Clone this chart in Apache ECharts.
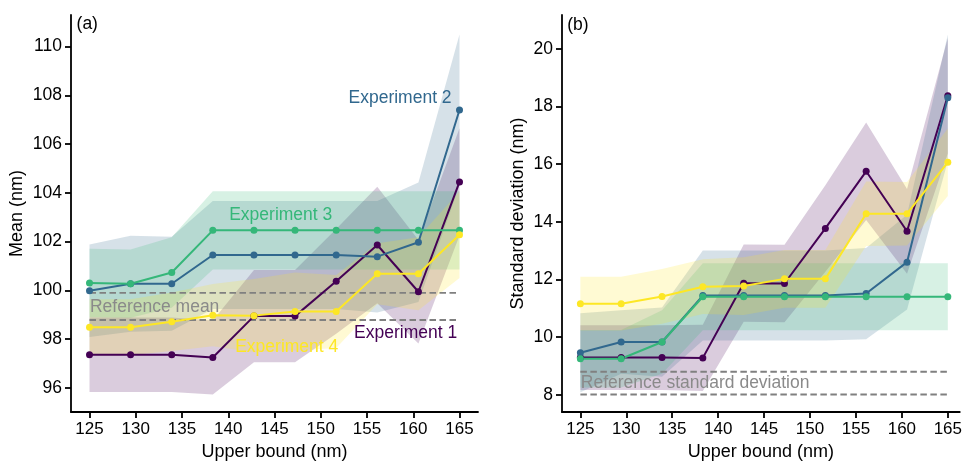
<!DOCTYPE html>
<html>
<head>
<meta charset="utf-8">
<script src="https://cdn.jsdelivr.net/npm/echarts@6/dist/echarts.min.js"></script>
<style>
html,body{margin:0;padding:0;background:#fff;}
#chart{width:965px;height:466px;}
</style>
</head>
<body>
<div id="chart"></div>
<script>
// ---------- data ----------
const upperBound = [125, 129.44, 133.89, 138.33, 142.78, 147.22, 151.67, 156.11, 160.56, 165];
const xTickLabels = [125, 130, 135, 140, 145, 150, 155, 160, 165];
const meanTicks = [96, 98, 100, 102, 104, 106, 108, 110];
const stdTicks = [8, 10, 12, 14, 16, 18, 20];

const exp1Mean = [97.35, 97.35, 97.35, 97.24, 98.94, 98.94, 100.37, 101.86, 99.94, 104.45];
const exp1MeanHalf = [1.53, 1.53, 1.53, 1.52, 1.89, 1.89, 2.15, 2.39, 2.12, 2.2];
const exp2Mean = [99.98, 100.27, 100.27, 101.45, 101.45, 101.45, 101.45, 101.38, 101.97, 107.4];
const exp2MeanHalf = [1.9, 1.97, 1.93, 2.22, 2.22, 2.22, 2.22, 2.29, 2.45, 3.1];
const exp3Mean = [100.3, 100.27, 100.73, 102.46, 102.46, 102.46, 102.46, 102.46, 102.46, 102.46];
const exp3MeanHalf = [1.4, 1.4, 1.45, 1.61, 1.61, 1.61, 1.61, 1.61, 1.61, 1.61];
const exp4Mean = [98.48, 98.48, 98.71, 98.98, 98.96, 99.13, 99.13, 100.68, 100.68, 102.28];
const exp4MeanHalf = [1.15, 1.15, 1.2, 1.28, 1.5, 1.6, 1.5, 1.25, 1.5, 1.78];

const exp1Std = [9.29, 9.29, 9.29, 9.28, 11.87, 11.86, 13.77, 15.75, 13.67, 18.37];
const exp1StdHalf = [1.12, 1.12, 1.12, 1.15, 1.34, 1.34, 1.5, 1.69, 1.47, 2.0];
const exp2Std = [9.46, 9.83, 9.83, 11.44, 11.44, 11.44, 11.44, 11.51, 12.6, 18.3];
const exp2StdHalf = [1.37, 1.1, 1.2, 1.56, 1.56, 1.56, 1.56, 1.58, 1.64, 2.19];
const exp3Std = [9.25, 9.25, 9.83, 11.4, 11.4, 11.4, 11.4, 11.4, 11.4, 11.4];
const exp3StdHalf = [1.0, 1.0, 1.1, 1.16, 1.16, 1.16, 1.16, 1.16, 1.16, 1.16];
const exp4Std = [11.16, 11.16, 11.41, 11.75, 11.77, 12.02, 12.02, 14.28, 14.28, 16.06];
const exp4StdHalf = [0.93, 0.93, 0.95, 0.95, 1.0, 1.0, 1.0, 1.12, 1.1, 1.17];

const referenceMean = [99.89, 98.78];
const referenceStd = [8.8, 8.01];

const seriesNames = ['Experiment 1', 'Experiment 2', 'Experiment 3', 'Experiment 4'];
const colors = ['#440154', '#31688e', '#35b779', '#fde725'];

// ---------- chart ----------
const FONT = '"Liberation Sans", Arial, Helvetica, sans-serif';
const chart = echarts.init(document.getElementById('chart'), null, {renderer: 'canvas'});

function bandSeries(gi, mean, half, color) {
  const lo = mean.map((m, i) => m - half[i]);
  const hi = mean.map((m, i) => m + half[i]);
  return {
    type: 'custom',
    xAxisIndex: gi, yAxisIndex: gi,
    silent: true,
    z: 1,
    data: upperBound.map((x, i) => [x, lo[i], hi[i]]),
    encode: {x: 0, y: [1, 2]},
    renderItem: function (params, api) {
      if (params.dataIndex !== 0) return null;
      const top = upperBound.map((x, i) => api.coord([x, hi[i]]));
      const bot = upperBound.map((x, i) => api.coord([x, lo[i]])).reverse();
      return {
        type: 'polygon',
        shape: {points: top.concat(bot)},
        style: {fill: color, opacity: 0.2}
      };
    }
  };
}

function lineSeries(gi, values, color, name) {
  return {
    type: 'line', name: name,
    xAxisIndex: gi, yAxisIndex: gi,
    data: upperBound.map((x, i) => [x, values[i]]),
    symbol: 'circle', symbolSize: 7,
    lineStyle: {color: color, width: 2},
    itemStyle: {color: color},
    z: 5, silent: true
  };
}

function refSeries(gi, v) {
  return {
    type: 'line',
    xAxisIndex: gi, yAxisIndex: gi,
    data: [[upperBound[0], v], [upperBound[upperBound.length - 1], v]],
    symbol: 'none',
    lineStyle: {color: '#808080', width: 1.8, type: [6.5, 3.5]},
    z: 3, silent: true
  };
}

function xAxis(gi, max) {
  return {
    type: 'value', gridIndex: gi, min: 123, max: max,
    name: 'Upper bound (nm)', nameLocation: 'middle', nameGap: 30,
    nameTextStyle: {fontFamily: FONT, fontSize: 18, color: '#000'},
    axisLine: {show: true, onZero: false, lineStyle: {color: '#000', width: 1.8}},
    axisTick: {show: true, length: 6, customValues: xTickLabels, lineStyle: {color: '#000', width: 1.8}},
    axisLabel: {customValues: xTickLabels, fontFamily: FONT, fontSize: 17, color: '#000', margin: 9},
    splitLine: {show: false}
  };
}

function yAxis(gi, min, max, ticks, name, gap) {
  return {
    type: 'value', gridIndex: gi, min: min, max: max,
    name: name, nameLocation: 'middle', nameGap: gap,
    nameTextStyle: {fontFamily: FONT, fontSize: 18, color: '#000'},
    axisLine: {show: true, onZero: false, lineStyle: {color: '#000', width: 1.8}},
    axisTick: {show: true, length: 6, customValues: ticks, lineStyle: {color: '#000', width: 1.8}},
    axisLabel: {customValues: ticks, fontFamily: FONT, fontSize: 17.5, color: '#000', margin: 9},
    splitLine: {show: false}
  };
}

const meanSets = [[exp1Mean, exp1MeanHalf], [exp2Mean, exp2MeanHalf], [exp3Mean, exp3MeanHalf], [exp4Mean, exp4MeanHalf]];
const stdSets = [[exp1Std, exp1StdHalf], [exp2Std, exp2StdHalf], [exp3Std, exp3StdHalf], [exp4Std, exp4StdHalf]];

const series = [];
meanSets.forEach((s, k) => series.push(bandSeries(0, s[0], s[1], colors[k])));
stdSets.forEach((s, k) => series.push(bandSeries(1, s[0], s[1], colors[k])));
referenceMean.forEach(v => series.push(refSeries(0, v)));
referenceStd.forEach(v => series.push(refSeries(1, v)));
meanSets.forEach((s, k) => series.push(lineSeries(0, s[0], colors[k], seriesNames[k])));
stdSets.forEach((s, k) => series.push(lineSeries(1, s[0], colors[k], seriesNames[k])));

chart.setOption({
  animation: false,
  backgroundColor: '#fff',
  textStyle: {fontFamily: FONT},
  grid: [
    {left: 71, top: 15, width: 407, height: 402},
    {left: 562, top: 15, width: 401, height: 402}
  ],
  xAxis: [xAxis(0, 167), xAxis(1, 166.3)],
  yAxis: [
    yAxis(0, 95, 111.3, meanTicks, 'Mean (nm)', 45),
    yAxis(1, 7.4, 21.17, stdTicks, 'Standard deviation (nm)', 35)
  ],
  series: series
});

// ---------- annotations (anchored in data coordinates) ----------
const annotations = [
  {grid: 0, at: [123.6, 110.93], text: '(a)', color: '#000'},
  {grid: 1, at: [123.56, 20.83], text: '(b)', color: '#000'},
  {grid: 0, at: [153.0, 107.87], text: 'Experiment 2', color: colors[1]},
  {grid: 0, at: [140.1, 103.07], text: 'Experiment 3', color: colors[2]},
  {grid: 0, at: [140.75, 97.66], text: 'Experiment 4', color: colors[3]},
  {grid: 0, at: [153.6, 98.23], text: 'Experiment 1', color: colors[0]},
  {grid: 0, at: [125.05, 99.32], text: 'Reference mean', color: '#8a8a8a'},
  {grid: 1, at: [125.05, 8.41], text: 'Reference standard deviation', color: '#8a8a8a'}
];
const elements = annotations.map(a => {
  const p = chart.convertToPixel({gridIndex: a.grid}, a.at);
  return {
    type: 'text', z: 10, silent: true,
    style: {
      x: p[0], y: p[1], text: a.text, fill: a.color,
      font: '17.5px ' + FONT,
      textAlign: 'left', textVerticalAlign: 'middle'
    }
  };
});
chart.setOption({graphic: {elements: elements}});
</script>
</body>
</html>
